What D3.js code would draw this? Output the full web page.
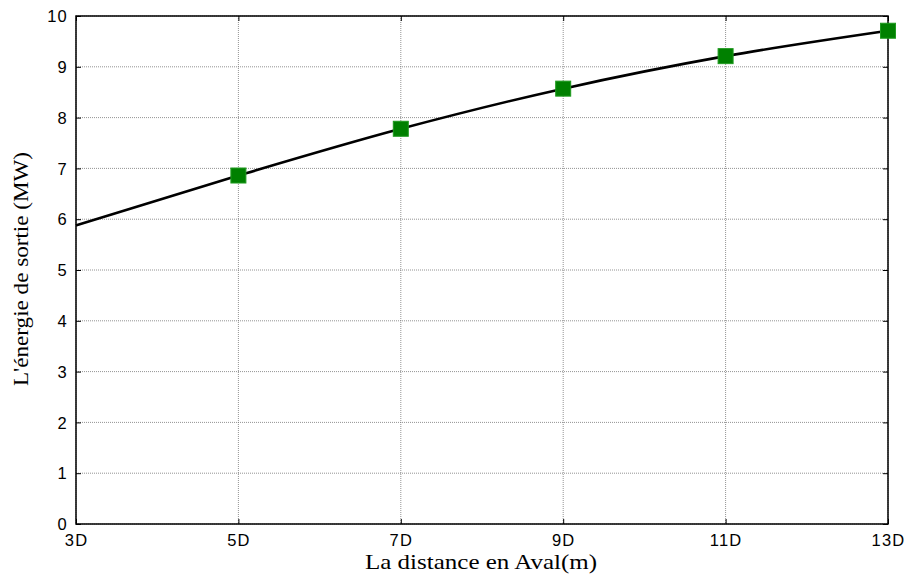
<!DOCTYPE html>
<html><head><meta charset="utf-8">
<script src="https://cdn.jsdelivr.net/npm/d3@7"></script>
<style>body{margin:0;background:#fff}</style>
</head><body>
<svg id="c" width="908" height="577"></svg>
<script>
const distances = [3, 5, 7, 9, 11, 13];
const energy = [5.88, 6.86, 7.78, 8.57, 9.21, 9.71];
const markerDistances = [5, 7, 9, 11, 13];
const xTickLabels = ["3D", "5D", "7D", "9D", "11D", "13D"];
const yTicks = [0,1,2,3,4,5,6,7,8,9,10];

const svg = d3.select("#c");
const m = {l:76, r:888, t:16, b:524};
const x = d3.scaleLinear().domain([3,13]).range([m.l, m.r]);
const y = d3.scaleLinear().domain([0,10]).range([m.b, m.t]);

// grid
const g = svg.append("g");
g.selectAll(".gx").data(distances).enter().append("line")
 .attr("x1", d=>x(d)).attr("x2", d=>x(d)).attr("y1", m.t).attr("y2", m.b)
 .attr("stroke", "#777").attr("stroke-width", 0.8).attr("stroke-dasharray", "1,1");
g.selectAll(".gy").data(yTicks).enter().append("line")
 .attr("y1", d=>y(d)).attr("y2", d=>y(d)).attr("x1", m.l).attr("x2", m.r)
 .attr("stroke", "#777").attr("stroke-width", 0.8).attr("stroke-dasharray", "1,1");

// axes
const fontTick = "'Liberation Sans', Arial, sans-serif";
const xAxis = d3.axisBottom(x).tickValues(distances).tickFormat((d,i)=>xTickLabels[i]).tickSizeInner(-5).tickSizeOuter(0).tickPadding(12);
const yAxis = d3.axisLeft(y).tickValues(yTicks).tickSizeInner(-5).tickSizeOuter(0).tickPadding(8);
const xa = svg.append("g").attr("transform", `translate(0,${m.b})`).call(xAxis);
const ya = svg.append("g").attr("transform", `translate(${m.l},0)`).call(yAxis);
const xt = svg.append("g").attr("transform", `translate(0,${m.t})`).call(d3.axisTop(x).tickValues(distances).tickFormat("").tickSizeInner(-5).tickSizeOuter(0));
const yr = svg.append("g").attr("transform", `translate(${m.r},0)`).call(d3.axisRight(y).tickValues(yTicks).tickFormat("").tickSizeInner(-5).tickSizeOuter(0));
[xa,ya,xt,yr].forEach(a=>{a.select(".domain").remove(); a.selectAll(".tick line").attr("stroke","#000").attr("stroke-width",1);});
xa.selectAll("text").attr("font-family", fontTick).attr("font-size", 16.5).attr("letter-spacing", 1.2).attr("fill","#000").attr("dy","0.6em");
ya.selectAll("text").attr("font-family", fontTick).attr("font-size", 16.5).attr("letter-spacing", 1.2).attr("fill","#000").attr("dy","0.35em");

svg.append("rect").attr("x", m.l).attr("y", m.t).attr("width", m.r-m.l).attr("height", m.b-m.t)
 .attr("fill","none").attr("stroke","#000").attr("stroke-width",1.5);

// line
const pts = distances.map((d,i)=>[d, energy[i]]);
svg.append("path").datum(pts)
 .attr("d", d3.line().x(d=>x(d[0])).y(d=>y(d[1])).curve(d3.curveMonotoneX))
 .attr("fill","none").attr("stroke","#000").attr("stroke-width",2.6);

// markers
const mk = pts.filter(p=>markerDistances.includes(p[0]));
svg.selectAll(".mk").data(mk).enter().append("rect")
 .attr("x", d=>x(d[0])-7.5).attr("y", d=>y(d[1])-7.5).attr("width",15).attr("height",15)
 .attr("fill","#008000").attr("stroke","#1f9a1f").attr("stroke-width",1);

// titles
const fontTitle = "'Liberation Serif', 'DejaVu Serif', serif";
svg.append("text").attr("x", 481).attr("y", 569).attr("text-anchor","middle")
 .attr("font-family", fontTitle).attr("font-size", 21).attr("fill","#000")
 .attr("textLength", 232).attr("lengthAdjust","spacingAndGlyphs").text("La distance en Aval(m)");
svg.append("text").attr("transform", `translate(28,269) rotate(-90)`).attr("text-anchor","middle")
 .attr("font-family", fontTitle).attr("font-size", 21).attr("fill","#000")
 .attr("textLength", 234).attr("lengthAdjust","spacingAndGlyphs").text("L'énergie de sortie (MW)");
</script>
</body></html>
